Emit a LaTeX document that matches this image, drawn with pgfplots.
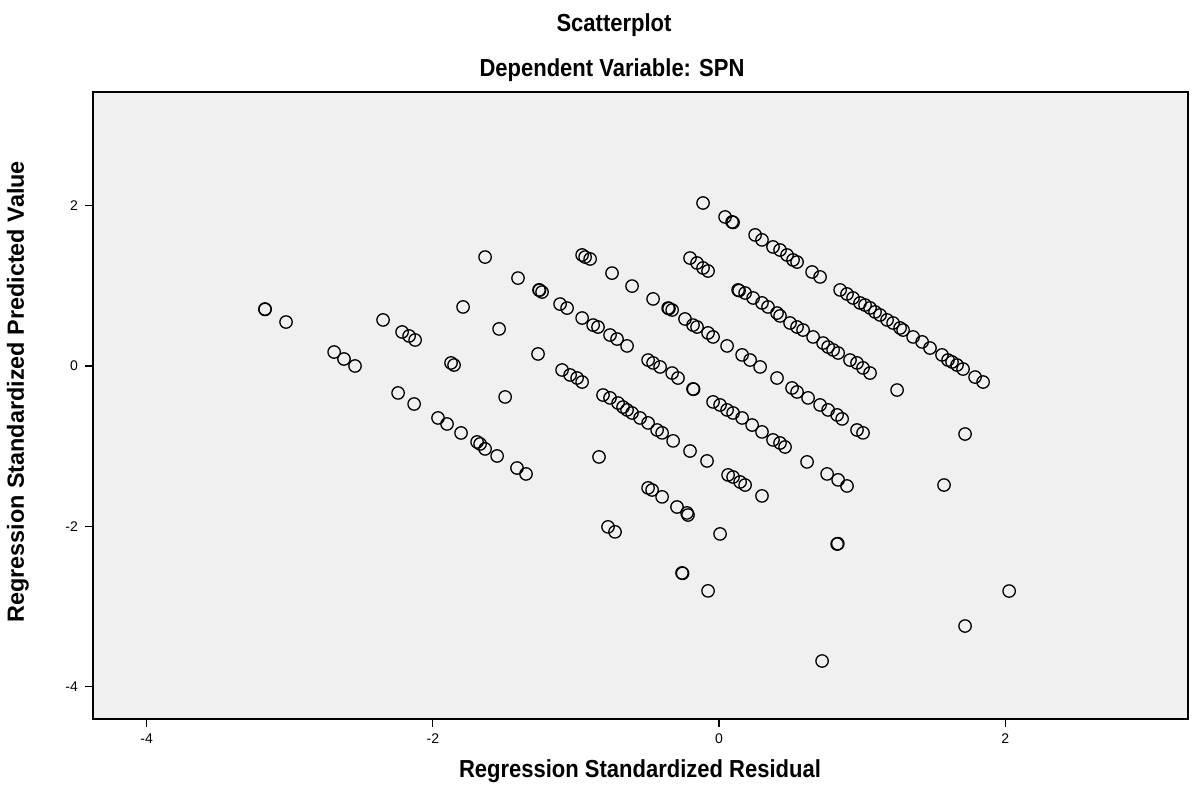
\documentclass[border=0pt]{standalone}
\usepackage{fontspec}
\setmainfont{Liberation Sans}
\usepackage{pgfplots}
\pgfplotsset{compat=1.18}
\definecolor{bg}{HTML}{F0F0F0}
\begin{document}
\begin{tikzpicture}[x=0.5pt,y=0.5pt]
\path[use as bounding box] (0,0) rectangle (1201,796);
\node[font=\fontsize{11}{13}\selectfont\bfseries, yscale=1.12] at (614,771) {Scatterplot};
\node[font=\fontsize{11}{13}\selectfont\bfseries, yscale=1.12] at (612,726) {Dependent Variable: SPN};
\node[font=\fontsize{11}{13}\selectfont\bfseries, yscale=1.12] at (640,25) {Regression Standardized Residual};
\node[font=\fontsize{11.7}{13}\selectfont\bfseries, rotate=90] at (18,404) {Regression Standardized Predicted Value};
\begin{axis}[at={(46.5pt,38.5pt)}, anchor=south west, scale only axis,
  width=547.5pt, height=313.5pt,
  xmin=-4.375, xmax=3.277, ymin=-4.401, ymax=3.416,
  axis background/.style={fill=bg},
  axis line style={line width=0.75pt},
  tick pos=left, tick align=outside, major tick length=4pt,
  every tick/.style={black, line width=0.6pt},
  xtick={-4,-2,0,2}, xticklabels={-4,-2,0,2},
  ytick={-4,-2,0,2}, yticklabels={-4,-2,0,2},
  tick label style={font=\fontsize{7}{8}\selectfont},
  clip=false]
\addplot[only marks, mark=o, mark size=3.1pt, mark options={line width=0.65pt, black}] table[row sep=\\] {
x y\\
-3.173 0.710\\ -3.173 0.705\\ -3.026 0.548\\ -2.690 0.174\\ -2.621 0.087\\ -2.544 0.000\\
-2.243 -0.336\\ -2.131 -0.474\\ -1.964 -0.648\\ -1.901 -0.723\\ -1.803 -0.835\\ -1.691 -0.947\\
-1.670 -0.972\\ -1.635 -1.034\\ -1.551 -1.122\\ -1.412 -1.272\\ -1.349 -1.346\\ -0.776 -2.006\\
-0.727 -2.068\\ -0.259 -2.580\\ -0.255 -2.585\\ -0.077 -2.804\\
-2.348 0.574\\ -2.215 0.424\\ -2.166 0.374\\ -2.124 0.324\\ -1.873 0.038\\ -1.852 0.012\\
-1.495 -0.386\\ -0.839 -1.134\\ -0.496 -1.520\\ -0.468 -1.546\\ -0.398 -1.632\\ -0.294 -1.758\\
-0.224 -1.832\\ -0.217 -1.858\\ 0.007 -2.094\\
-1.789 0.736\\ -1.537 0.462\\ -1.265 0.150\\ -1.097 -0.050\\ -1.041 -0.112\\ -0.992 -0.150\\
-0.957 -0.200\\ -0.811 -0.362\\ -0.762 -0.398\\ -0.706 -0.462\\ -0.671 -0.512\\ -0.643 -0.548\\
-0.608 -0.586\\ -0.552 -0.648\\ -0.496 -0.710\\ -0.433 -0.798\\ -0.398 -0.834\\ -0.321 -0.934\\
-0.203 -1.060\\ -0.084 -1.184\\ 0.063 -1.358\\ 0.098 -1.384\\ 0.147 -1.446\\ 0.182 -1.484\\ 0.300 -1.620\\
-1.635 1.358\\ -1.405 1.096\\ -1.258 0.948\\ -1.255 0.945\\ -1.237 0.922\\ -1.111 0.772\\ -1.062 0.722\\
-0.957 0.598\\ -0.880 0.510\\ -0.846 0.486\\ -0.762 0.386\\ -0.713 0.336\\ -0.643 0.250\\
-0.496 0.074\\ -0.461 0.038\\ -0.412 -0.012\\ -0.328 -0.088\\ -0.287 -0.150\\ -0.182 -0.286\\
-0.178 -0.290\\ -0.042 -0.448\\ 0.007 -0.486\\ 0.056 -0.548\\ 0.098 -0.586\\ 0.161 -0.648\\
0.231 -0.736\\ 0.300 -0.822\\ 0.377 -0.922\\ 0.426 -0.960\\ 0.461 -1.010\\ 0.615 -1.196\\
0.755 -1.346\\ 0.832 -1.420\\ 0.894 -1.496\\
-0.957 1.384\\ -0.936 1.358\\ -0.901 1.334\\ -0.748 1.158\\ -0.608 0.996\\ -0.461 0.836\\
-0.356 0.722\\ -0.350 0.716\\ -0.328 0.698\\ -0.238 0.586\\ -0.182 0.510\\ -0.154 0.486\\
-0.077 0.412\\ -0.042 0.362\\ 0.056 0.250\\ 0.161 0.138\\ 0.217 0.074\\ 0.287 -0.012\\
0.405 -0.150\\ 0.510 -0.274\\ 0.545 -0.324\\ 0.622 -0.398\\ 0.706 -0.486\\ 0.762 -0.548\\
0.825 -0.610\\ 0.860 -0.660\\ 0.964 -0.798\\ 1.006 -0.834\\
-0.203 1.346\\ -0.154 1.284\\ -0.112 1.222\\ -0.077 1.184\\ 0.133 0.948\\ 0.140 0.940\\
0.182 0.910\\ 0.238 0.848\\ 0.300 0.786\\ 0.342 0.736\\ 0.405 0.660\\ 0.426 0.624\\
0.496 0.536\\ 0.545 0.486\\ 0.587 0.448\\ 0.657 0.362\\ 0.727 0.286\\ 0.762 0.236\\
0.797 0.200\\ 0.832 0.162\\ 0.915 0.074\\ 0.964 0.038\\ 1.006 -0.024\\ 1.055 -0.088\\ 1.244 -0.300\\
-0.112 2.032\\ 0.042 1.858\\ 0.091 1.796\\ 0.098 1.790\\ 0.252 1.634\\ 0.300 1.572\\
0.377 1.484\\ 0.426 1.446\\ 0.475 1.384\\ 0.517 1.322\\ 0.545 1.296\\ 0.650 1.172\\
0.706 1.110\\ 0.846 0.948\\ 0.894 0.898\\ 0.936 0.848\\ 0.985 0.786\\ 1.020 0.760\\
1.055 0.724\\ 1.090 0.674\\ 1.125 0.636\\ 1.174 0.574\\ 1.216 0.536\\ 1.265 0.474\\
1.286 0.448\\ 1.356 0.362\\ 1.419 0.300\\ 1.474 0.224\\ 1.558 0.138\\ 1.600 0.074\\
1.628 0.050\\ 1.663 0.012\\ 1.705 -0.038\\ 1.789 -0.138\\ 1.845 -0.200\\
1.719 -0.848\\ 1.572 -1.484\\ 0.825 -2.220\\ 0.830 -2.215\\ 2.027 -2.806\\ 1.719 -3.242\\ 0.720 -3.678\\
};
\end{axis}
\end{tikzpicture}
\end{document}
